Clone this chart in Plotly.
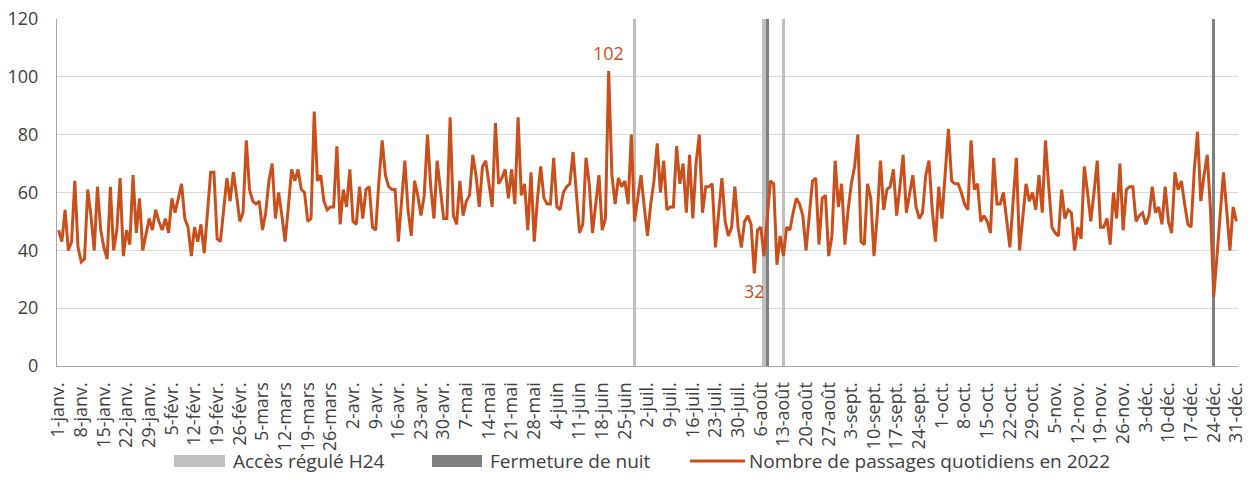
import pandas as pd
import plotly.graph_objects as go

# ---- data (daily number of passages, 2022) ----
jan = [47, 43, 54, 40, 43, 64, 41, 36, 37, 61, 52, 40, 62, 47, 41, 37, 62, 40, 47, 65,
       38, 47, 42, 66, 46, 58, 40, 46, 51, 47, 54]
feb = [50, 47, 51, 46, 58, 53, 58, 63, 51, 48, 38, 48, 43, 49, 39, 53, 67, 67, 44, 43,
       54, 65, 57, 67, 59, 50, 53, 78]
mar = [61, 57, 56, 57, 47, 53, 64, 70, 51, 60, 52, 43, 55, 68, 64, 68, 61, 60, 50, 51,
       88, 64, 66, 57, 54, 55, 55, 76, 49, 61, 55]
apr = [68, 50, 49, 62, 51, 61, 62, 48, 47, 64, 78, 66, 62, 61, 61, 43, 58, 71, 54, 45,
       64, 59, 52, 59, 80, 62, 51, 71, 61, 51]
may = [51, 86, 52, 49, 64, 52, 57, 59, 73, 66, 55, 69, 71, 63, 55, 84, 63, 65, 68, 58,
       68, 56, 86, 59, 63, 47, 67, 43, 58, 69, 58]
jun = [56, 56, 72, 55, 54, 60, 62, 63, 74, 60, 46, 49, 72, 63, 46, 56, 66, 47, 51, 102,
       66, 56, 65, 62, 64, 56, 80, 50, 59, 66]
jul = [55, 45, 56, 64, 77, 60, 71, 54, 55, 55, 76, 63, 70, 53, 73, 51, 70, 80, 53, 62,
       62, 63, 41, 54, 65, 50, 45, 48, 62, 48, 41]
aug = [50, 52, 49, 32, 47, 48, 38, 52, 64, 63, 35, 45, 38, 48, 47, 53, 58, 56, 52, 40,
       52, 64, 65, 42, 58, 59, 38, 45, 71, 55, 63]
sep = [42, 54, 63, 69, 80, 43, 42, 63, 58, 38, 52, 71, 54, 61, 62, 68, 52, 62, 73, 53,
       60, 66, 55, 51, 53, 66, 71, 54, 43, 62]
oct_ = [51, 67, 82, 64, 63, 63, 60, 56, 54, 78, 61, 63, 50, 52, 50, 46, 72, 56, 56, 60,
        50, 41, 57, 72, 40, 52, 63, 57, 60, 54, 66]
nov = [53, 78, 62, 48, 46, 45, 61, 51, 54, 53, 40, 48, 44, 69, 60, 50, 60, 71, 48, 48,
       51, 42, 60, 51, 70, 47, 61, 62, 62, 50]
dec = [52, 53, 49, 52, 62, 53, 55, 49, 62, 50, 46, 67, 61, 64, 56, 49, 48, 68, 81, 57,
       66, 73, 54, 24, 38, 52, 67, 54, 40, 55, 50]

daily = jan + feb + mar + apr + may + jun + jul + aug + sep + oct_ + nov + dec
dates = pd.date_range("2022-01-01", periods=len(daily), freq="D")

tick_labels = ["1-janv.", "8-janv.", "15-janv.", "22-janv.", "29-janv.", "5-févr.",
               "12-févr.", "19-févr.", "26-févr.", "5-mars", "12-mars", "19-mars",
               "26-mars", "2-avr.", "9-avr.", "16-avr.", "23-avr.", "30-avr.", "7-mai",
               "14-mai", "21-mai", "28-mai", "4-juin", "11-juin", "18-juin", "25-juin",
               "2-juil.", "9-juil.", "16-juil.", "23-juil.", "30-juil.", "6-août",
               "13-août", "20-août", "27-août", "3-sept.", "10-sept.", "17-sept.",
               "24-sept.", "1-oct.", "8-oct.", "15-oct.", "22-oct.", "29-oct.", "5-nov.",
               "12-nov.", "19-nov.", "26-nov.", "3-déc.", "10-déc.", "17-déc.",
               "24-déc.", "31-déc."]
tick_dates = dates[::7]

acces_dates = ["2022-06-28", "2022-08-07", "2022-08-13"]
fermeture_dates = ["2022-08-08", "2022-12-24"]
bar_top = 120

# points carrying a data label (high label above, low label below)
label_high_date = "2022-06-20"
label_low_date = "2022-08-04"

series_names = ["Accès régulé H24", "Fermeture de nuit",
                "Nombre de passages quotidiens en 2022"]

# ---- styles ----
ORANGE = "#C9501C"
LIGHT = "#BFBFBF"
DARK = "#808080"
TXT = "#404040"
FONT = "Open Sans"
DAY_MS = 86400000

fig = go.Figure()
fig.add_trace(go.Bar(x=acces_dates, y=[bar_top] * len(acces_dates), width=DAY_MS,
                     marker=dict(color=LIGHT, line=dict(width=0)),
                     name=series_names[0], showlegend=False))
fig.add_trace(go.Bar(x=fermeture_dates, y=[bar_top] * len(fermeture_dates), width=DAY_MS,
                     marker=dict(color=DARK, line=dict(width=0)),
                     name=series_names[1], showlegend=False))
fig.add_trace(go.Scatter(x=dates, y=daily, mode="lines",
                         line=dict(color=ORANGE, width=3),
                         name=series_names[2], showlegend=False))

series = pd.Series(daily, index=dates)
hi = pd.Timestamp(label_high_date)
lo = pd.Timestamp(label_low_date)
fig.add_annotation(x=hi, y=series[hi], text=str(series[hi]), showarrow=False,
                   yanchor="bottom", yshift=4, font=dict(color=ORANGE, size=18, family=FONT))
fig.add_annotation(x=lo, y=series[lo], text=str(series[lo]), showarrow=False,
                   yanchor="top", yshift=-4, font=dict(color=ORANGE, size=18, family=FONT))

# ---- custom legend ----
L, T, W, H = 57, 19, 1181, 347


def px(x):
    return (x - L) / W


def py(y):
    return (T + H - y) / H


LEG_Y = 461
fig.add_shape(type="rect", xref="paper", yref="paper", x0=px(174), x1=px(225),
              y0=py(LEG_Y + 6), y1=py(LEG_Y - 6), fillcolor=LIGHT, line=dict(width=0))
fig.add_shape(type="rect", xref="paper", yref="paper", x0=px(432), x1=px(482),
              y0=py(LEG_Y + 6), y1=py(LEG_Y - 6), fillcolor=DARK, line=dict(width=0))
fig.add_shape(type="line", xref="paper", yref="paper", x0=px(690), x1=px(745),
              y0=py(LEG_Y), y1=py(LEG_Y), line=dict(color=ORANGE, width=3))
for xs, name in zip([231, 488, 747], series_names):
    fig.add_annotation(xref="paper", yref="paper", x=px(xs), y=py(LEG_Y), text=name,
                       showarrow=False, xanchor="left", yanchor="middle",
                       font=dict(size=19, color=TXT, family=FONT))

fig.update_layout(
    width=1250, height=494,
    margin=dict(l=L, r=1250 - L - W, t=T, b=494 - T - H, autoexpand=False),
    plot_bgcolor="white", paper_bgcolor="white",
    barmode="overlay", bargap=0, showlegend=False,
    font=dict(family=FONT, size=18, color=TXT),
)
fig.update_xaxes(range=[dates[0] - pd.Timedelta(hours=12), dates[-1] + pd.Timedelta(hours=12)],
                 tickvals=list(tick_dates), ticktext=tick_labels, tickangle=-90,
                 ticks="", showgrid=False, showline=True, linecolor="#A6A6A6",
                 linewidth=1, ticklabelstandoff=8, ticklabeloverflow="allow",
                 automargin=False, tickfont=dict(size=18))
fig.update_yaxes(range=[0, 120], dtick=20, ticks="", showgrid=True, gridcolor="#D9D9D9",
                 gridwidth=1, zeroline=False, showline=True, linecolor="#A6A6A6",
                 linewidth=1, ticklabelstandoff=14, automargin=False,
                 tickfont=dict(size=18))

fig.write_html("out.html", config={"displayModeBar": False},
               post_script="document.body.style.margin='0';document.body.style.overflow='hidden';")
